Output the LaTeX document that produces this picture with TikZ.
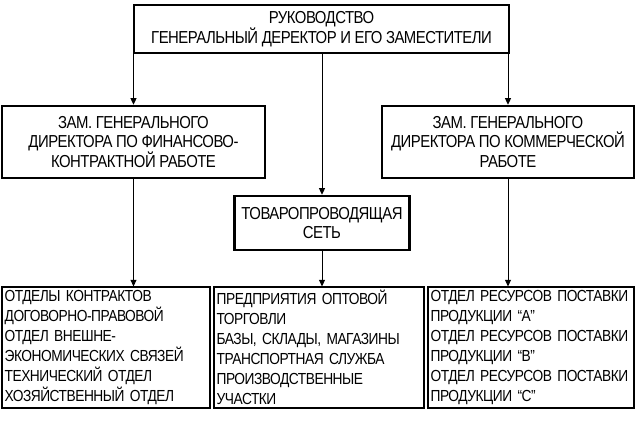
\documentclass[tikz,border=0pt]{standalone}
\usepackage{fontspec}
\setmainfont{Liberation Sans}[FakeStretch=0.86, LetterSpace=-3]
\usetikzlibrary{positioning, arrows.meta}

\begin{document}
\begin{tikzpicture}[x=0.75pt,y=-0.75pt]
		\tikzstyle{box} = [draw=black, line width=1.8pt, align=center, inner sep=2pt, font=\fontsize{13}{14.8}\selectfont]
		\tikzstyle{list} = [draw=black, line width=0.8pt, align=left, inner sep=2pt, font=\fontsize{12}{15}\selectfont]
		\tikzstyle{stealth} = [-{Triangle[length=5pt,width=4.5pt]}, line width=0.75pt]
		\useasboundingbox (0,0) rectangle (636,423);
		\node [box, minimum width=281.25pt, minimum height=36pt] (v_ruk) at (321.5,29) {РУКОВОДСТВО\\ГЕНЕРАЛЬНЫЙ ДЕРЕКТОР И ЕГО ЗАМЕСТИТЕЛИ};
		\node [box, minimum width=197.25pt, minimum height=54pt] (v_fin) at (133.5,142) {ЗАМ. ГЕНЕРАЛЬНОГО\\ДИРЕКТОРА ПО ФИНАНСОВО-\\КОНТРАКТНОЙ РАБОТЕ};
		\node [box, minimum width=189pt, minimum height=54pt] (v_kom) at (508,142) {ЗАМ. ГЕНЕРАЛЬНОГО\\ДИРЕКТОРА ПО КОММЕРЧЕСКОЙ\\РАБОТЕ};
		\node [box, minimum width=131.25pt, minimum height=40.5pt] (v_set) at (322,223) {ТОВАРОПРОВОДЯЩАЯ\\СЕТЬ};
		\node [list, text width=152pt, minimum height=90.75pt] (v_otd) at (106,347.5) {ОТДЕЛЫ КОНТРАКТОВ\\ДОГОВОРНО-ПРАВОВОЙ\\ОТДЕЛ ВНЕШНЕ-\\ЭКОНОМИЧЕСКИХ СВЯЗЕЙ\\ТЕХНИЧЕСКИЙ ОТДЕЛ\\ХОЗЯЙСТВЕННЫЙ ОТДЕЛ};
		\node [list, text width=153.5pt, minimum height=90.75pt] (v_torg) at (319,347.5) {ПРЕДПРИЯТИЯ ОПТОВОЙ\\ТОРГОВЛИ\\БАЗЫ, СКЛАДЫ, МАГАЗИНЫ\\ТРАНСПОРТНАЯ СЛУЖБА\\ПРОИЗВОДСТВЕННЫЕ\\УЧАСТКИ};
		\node [list, text width=150.5pt, minimum height=90.75pt] (v_res) at (531,347.5) {ОТДЕЛ РЕСУРСОВ ПОСТАВКИ\\ПРОДУКЦИИ “А”\\ОТДЕЛ РЕСУРСОВ ПОСТАВКИ\\ПРОДУКЦИИ “В”\\ОТДЕЛ РЕСУРСОВ ПОСТАВКИ\\ПРОДУКЦИИ “С”};
		\draw [stealth] (v_ruk.south -| v_fin.north) -- (v_fin.north);
		\draw [stealth] (v_ruk.south -| v_kom.north) -- (v_kom.north);
		\draw [stealth] (v_ruk.south -| v_set.north) -- (v_set.north);
		\draw [stealth] (v_fin.south) -- (v_fin.south |- v_otd.north);
		\draw [stealth] (v_set.south) -- (v_set.south |- v_torg.north);
		\draw [stealth] (v_kom.south) -- (v_kom.south |- v_res.north);
\end{tikzpicture}
\end{document}
